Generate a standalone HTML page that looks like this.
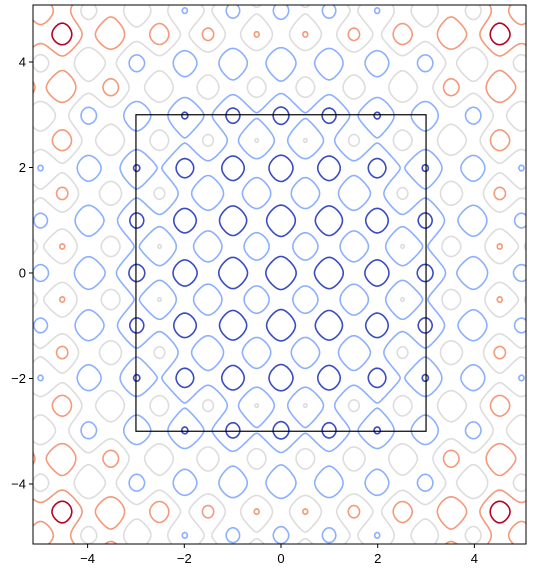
<!DOCTYPE html>
<html><head><meta charset="utf-8">
<style>
html,body{margin:0;padding:0;background:#fff;}
svg{display:block;font-family:"Liberation Sans","DejaVu Sans",sans-serif;}
</style></head>
<body>
<svg id="chart" width="549" height="575" viewBox="0 0 549 575">
  <rect x="0" y="0" width="549" height="575" fill="#fff"/>
  <defs><clipPath id="plotclip"><rect x="33" y="5" width="493" height="539"/></clipPath></defs>
  <g id="contours" clip-path="url(#plotclip)"></g>
  <rect x="136" y="115.5" width="290" height="316.5" fill="none" stroke="#000" stroke-width="1.2" id="sq"/>
  <rect x="33" y="5" width="493" height="539" fill="none" stroke="#000" stroke-width="1"/>
  <g id="xticks"></g>
  <g id="yticks"></g>
</svg>
<script>
// data
const levels = [-0.6, 1.0, 2.64, 4.05, 5.45];
const levelColors = ['#3b4cc0', '#8db0fe', '#dddddd', '#f49a7b', '#b40426'];
const envelopeCoeffs = [0.102, 0.0];
const xTicks = [-4, -2, 0, 2, 4];
const yTicks = [-4, -2, 0, 2, 4];
const squareCorners = [-3, 3];

const X0 = 281, XS = 48.35, Y0 = 273, YS = 52.75;
const L = 33, R = 526, T = 5, B = 544;
const sx = x => X0 + XS * x;
const sy = y => Y0 - YS * y;
const ns = 'http://www.w3.org/2000/svg';

function f(x, y) {
  const r2 = x * x + y * y;
  return -(Math.cos(2 * Math.PI * x) + Math.cos(2 * Math.PI * y)) + envelopeCoeffs[0] * r2 + envelopeCoeffs[1] * r2 * r2;
}

const xmin = (L - X0) / XS - 0.05, xmax = (R - X0) / XS + 0.05;
const ymax = (Y0 - T) / YS + 0.05, ymin = (Y0 - B) / YS - 0.05;
const N = 420, M = 460;
const gx = [], gy = [];
for (let i = 0; i <= N; i++) gx.push(xmin + (xmax - xmin) * i / N);
for (let j = 0; j <= M; j++) gy.push(ymin + (ymax - ymin) * j / M);
const Z = [];
for (let j = 0; j <= M; j++) { const row = []; for (let i = 0; i <= N; i++) row.push(f(gx[i], gy[j])); Z.push(row); }

const g = document.getElementById('contours');
levels.forEach((lv, k) => {
  let d = '';
  const ip = (a, b, va, vb) => a + (b - a) * (lv - va) / (vb - va);
  for (let j = 0; j < M; j++) for (let i = 0; i < N; i++) {
    const v0 = Z[j][i], v1 = Z[j][i + 1], v2 = Z[j + 1][i + 1], v3 = Z[j + 1][i];
    const pts = [];
    if ((v0 < lv) !== (v1 < lv)) pts.push([ip(gx[i], gx[i + 1], v0, v1), gy[j]]);
    if ((v1 < lv) !== (v2 < lv)) pts.push([gx[i + 1], ip(gy[j], gy[j + 1], v1, v2)]);
    if ((v2 < lv) !== (v3 < lv)) pts.push([ip(gx[i + 1], gx[i], v2, v3), gy[j + 1]]);
    if ((v3 < lv) !== (v0 < lv)) pts.push([gx[i], ip(gy[j + 1], gy[j], v3, v0)]);
    for (let p = 0; p + 1 < pts.length; p += 2) {
      d += 'M' + sx(pts[p][0]).toFixed(1) + ' ' + sy(pts[p][1]).toFixed(1) + 'L' + sx(pts[p + 1][0]).toFixed(1) + ' ' + sy(pts[p + 1][1]).toFixed(1);
    }
  }
  const path = document.createElementNS(ns, 'path');
  path.setAttribute('d', d);
  path.setAttribute('fill', 'none');
  path.setAttribute('stroke', levelColors[k]);
  path.setAttribute('stroke-width', '1.6');
  path.setAttribute('stroke-linecap', 'round');
  
  
  g.appendChild(path);
});

const sq = document.getElementById('sq');
sq.setAttribute('x', sx(squareCorners[0]));
sq.setAttribute('y', sy(squareCorners[1]));
sq.setAttribute('width', sx(squareCorners[1]) - sx(squareCorners[0]));
sq.setAttribute('height', sy(squareCorners[0]) - sy(squareCorners[1]));

const fmt = v => (v < 0 ? '\u2212' : '') + Math.abs(v);
const xt = document.getElementById('xticks');
xTicks.forEach(v => {
  const x = sx(v);
  const ln = document.createElementNS(ns, 'line');
  ln.setAttribute('x1', x); ln.setAttribute('x2', x); ln.setAttribute('y1', B); ln.setAttribute('y2', B + 4);
  ln.setAttribute('stroke', '#000');
  
  
  xt.appendChild(ln);
  const t = document.createElementNS(ns, 'text');
  t.setAttribute('x', x); t.setAttribute('y', B + 19);
  t.setAttribute('text-anchor', 'middle'); t.setAttribute('font-size', '13');
  t.textContent = fmt(v);
  
  
  xt.appendChild(t);
});
const yt = document.getElementById('yticks');
yTicks.forEach(v => {
  const y = sy(v);
  const ln = document.createElementNS(ns, 'line');
  ln.setAttribute('x1', L - 4); ln.setAttribute('x2', L); ln.setAttribute('y1', y); ln.setAttribute('y2', y);
  ln.setAttribute('stroke', '#000');
  
  
  yt.appendChild(ln);
  const t = document.createElementNS(ns, 'text');
  t.setAttribute('x', L - 7); t.setAttribute('y', y + 4.5);
  t.setAttribute('text-anchor', 'end'); t.setAttribute('font-size', '13');
  t.textContent = fmt(v);
  
  
  yt.appendChild(t);
});
</script>
</body></html>
